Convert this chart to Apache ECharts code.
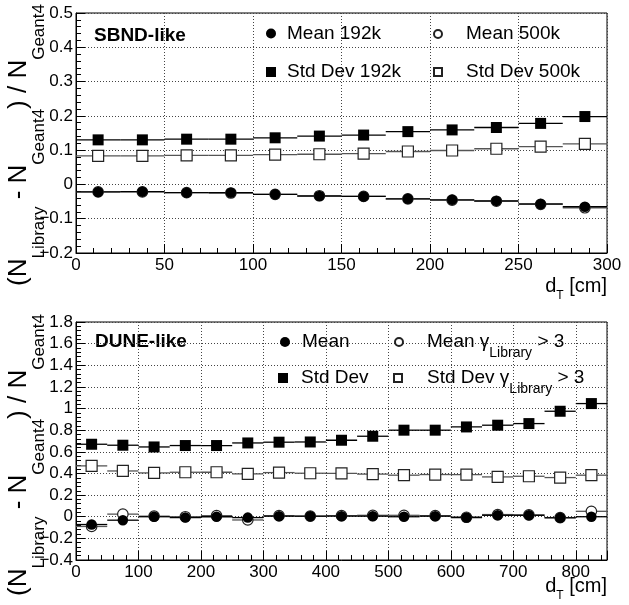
<!DOCTYPE html>
<html><head><meta charset="utf-8">
<script src="https://cdn.jsdelivr.net/npm/echarts@6/dist/echarts.min.js"></script>
<style>html,body{margin:0;padding:0;background:#fff}#c{width:629px;height:605px}</style>
</head><body><div id="c"></div>
<script>
// ---------- data ----------
const sbndBinWidth = 25;
const sbndX = [12.5, 37.5, 62.5, 87.5, 112.5, 137.5, 162.5, 187.5, 212.5, 237.5, 262.5, 287.5];
const sbndMean192k = [-0.022, -0.021, -0.024, -0.024, -0.029, -0.034, -0.035, -0.042, -0.045, -0.048, -0.057, -0.065];
const sbndMean500k = [-0.022, -0.022, -0.024, -0.025, -0.029, -0.033, -0.035, -0.042, -0.046, -0.049, -0.058, -0.068];
const sbndStd192k  = [0.130, 0.130, 0.132, 0.132, 0.136, 0.141, 0.144, 0.154, 0.159, 0.166, 0.178, 0.198];
const sbndStd500k  = [0.083, 0.083, 0.085, 0.085, 0.087, 0.088, 0.090, 0.096, 0.099, 0.104, 0.110, 0.118];

const duneBinWidth = 50;
const duneX = [25, 75, 125, 175, 225, 275, 325, 375, 425, 475, 525, 575, 625, 675, 725, 775, 825];
const duneMean    = [-0.072, -0.032, 0.000, -0.008, 0.000, -0.008, 0.005, 0.005, 0.005, 0.005, 0.000, 0.005, -0.007, 0.013, 0.013, -0.010, 0.000];
const duneMeanCut = [-0.090, 0.024, 0.005, 0.000, 0.010, -0.030, 0.010, 0.005, 0.010, 0.013, 0.013, 0.010, -0.005, 0.020, 0.017, -0.008, 0.050];
const duneStd     = [0.670, 0.661, 0.645, 0.658, 0.658, 0.682, 0.689, 0.691, 0.707, 0.744, 0.800, 0.800, 0.830, 0.846, 0.861, 0.975, 1.046];
const duneStdCut  = [0.470, 0.423, 0.405, 0.411, 0.411, 0.396, 0.408, 0.402, 0.400, 0.394, 0.384, 0.390, 0.390, 0.368, 0.374, 0.362, 0.384];

const sbndXAxis = {min: 0, max: 300, interval: 50};
const sbndYAxis = {min: -0.2, max: 0.5, interval: 0.1};
const duneXAxis = {min: 0, max: 850, interval: 100};
const duneYAxis = {min: -0.4, max: 1.8, interval: 0.2};

const labels = {
  sbnd: 'SBND-like', dune: 'DUNE-like',
  yTitle: '(N{sub|Library} - N{sub|Geant4}) / N{sub|Geant4}',
  xTitle: 'd{sub|T} [cm]'
};

// ---------- helpers ----------
const FONT = "'Liberation Sans', Arial, Helvetica, sans-serif";
const pts = (xs, ys) => xs.map((x, i) => [x, ys[i]]);
const fmt = v => String(+(+v).toFixed(3)).replace('-', '\u2212');

function bars(name, xs, ys, bw, idx, color) {
  const hw = bw / 2;
  return {
    type: 'custom', name: name, xAxisIndex: idx, yAxisIndex: idx, silent: true,
    data: pts(xs, ys), encode: {x: 0, y: 1},
    renderItem: function (params, api) {
      const x = api.value(0), y = api.value(1);
      const a = api.coord([x - hw, y]), b = api.coord([x + hw, y]);
      return {type: 'line', shape: {x1: a[0], y1: a[1], x2: b[0], y2: b[1]},
              style: {stroke: color, lineWidth: 1.3}};
    }
  };
}
function marks(name, xs, ys, idx, symbol, open) {
  return {
    type: 'scatter', name: name, xAxisIndex: idx, yAxisIndex: idx, silent: true,
    data: pts(xs, ys), symbol: symbol, symbolSize: symbol === 'rect' ? 11 : 10.5,
    itemStyle: open ? {color: '#fff', borderColor: '#222', borderWidth: 1.2, opacity: 1}
                    : {color: '#000', opacity: 1},
    emphasis: {disabled: true}
  };
}
function xAx(idx, cfg) {
  return Object.assign({
    type: 'value', gridIndex: idx,
    axisLine: {show: true, onZero: false, lineStyle: {color: '#000', width: 1}},
    axisTick: {show: true, inside: true, length: 9, lineStyle: {color: '#000'}},
    minorTick: {show: true, splitNumber: 5, length: 5, lineStyle: {color: '#000'}},
    splitLine: {show: true, lineStyle: {color: '#444', type: [1, 2], width: 1}},
    axisLabel: {fontSize: 17, color: '#000', margin: 4, fontFamily: FONT, showMaxLabel: idx === 0}
  }, cfg);
}
function yAx(idx, cfg) {
  return Object.assign({
    type: 'value', gridIndex: idx,
    axisLine: {show: true, onZero: false, lineStyle: {color: '#000', width: 1}},
    axisTick: {show: true, inside: true, length: 9, lineStyle: {color: '#000'}},
    minorTick: {show: true, splitNumber: 5, length: 5, lineStyle: {color: '#000'}},
    splitLine: {show: true, lineStyle: {color: '#444', type: [1, 2], width: 1}},
    axisLabel: {fontSize: 17, color: '#000', margin: 3, fontFamily: FONT, formatter: fmt}
  }, cfg);
}
function leg(name, cx, cy, w, pad, L, fmtStr) {
  return {
    data: [{name: name}], left: cx - w / 2, top: cy - L / 2, padding: 0,
    itemWidth: w, itemHeight: w, selectedMode: false, orient: 'horizontal',
    formatter: fmtStr || '{name}',
    textStyle: {fontSize: 19, fontFamily: FONT, color: '#000', lineHeight: L, padding: [0, 0, 0, pad],
      rich: {sub: {fontSize: 14, fontFamily: FONT, color: '#000', lineHeight: 12, verticalAlign: 'bottom'}}}
  };
}
function ytitle(cx, cy) {
  return {type: 'text', x: cx, y: cy, rotation: Math.PI / 2, silent: true,
    style: {text: labels.yTitle, fontSize: 26, fontFamily: FONT, lineHeight: 57, fill: '#000',
      align: 'center', verticalAlign: 'middle', textAlign: 'center', textVerticalAlign: 'middle',
      rich: {sub: {fontSize: 17, fontFamily: FONT, lineHeight: 17, verticalAlign: 'bottom', fill: '#000'}}}};
}
function xtitle(rx, cy) {
  return {type: 'text', x: rx, y: cy, silent: true,
    style: {text: labels.xTitle, fontSize: 20, fontFamily: FONT, lineHeight: 30, fill: '#000',
      align: 'right', verticalAlign: 'middle', textAlign: 'right', textVerticalAlign: 'middle',
      rich: {sub: {fontSize: 12, fontFamily: FONT, lineHeight: 12, verticalAlign: 'bottom', fill: '#000'}}}};
}
function ptitle(t, x, y) {
  return {type: 'text', x: x, y: y, silent: true,
    style: {text: t, fontSize: 19, fontWeight: 'bold', fontFamily: FONT, fill: '#000',
      align: 'left', verticalAlign: 'middle', textAlign: 'left', textVerticalAlign: 'middle'}};
}

const chart = echarts.init(document.getElementById('c'), null, {renderer: 'canvas'});
chart.setOption({
  animation: false,
  backgroundColor: '#fff',
  grid: [
    {left: 76, top: 13, width: 531, height: 240, show: true, borderColor: '#000', borderWidth: 1, backgroundColor: '#fff'},
    {left: 76, top: 322, width: 531, height: 238, show: true, borderColor: '#000', borderWidth: 1, backgroundColor: '#fff'}
  ],
  xAxis: [xAx(0, sbndXAxis), xAx(1, duneXAxis)],
  yAxis: [yAx(0, sbndYAxis), yAx(1, duneYAxis)],
  legend: [
    leg('Mean 192k', 271, 33.5, 10, 6, 22),
    leg('Mean 500k', 437, 34, 8, 19, 22),
    leg('Std Dev 192k', 271, 72, 10, 6, 22),
    leg('Std Dev 500k', 437, 72, 8, 19, 22),
    leg('Mean', 285, 342, 10, 7, 22),
    leg('Mean \u03b3 > 3', 398, 342, 8, 19, 36, 'Mean \u03b3{sub|Library} > 3'),
    leg('Std Dev', 283, 378, 10, 8, 22),
    leg('Std Dev \u03b3 > 3', 397, 378, 8, 20, 36, 'Std Dev \u03b3{sub|Library} > 3')
  ],
  series: [
    bars('b500m', sbndX, sbndMean500k, sbndBinWidth, 0, '#555'),
    marks('Mean 500k', sbndX, sbndMean500k, 0, 'circle', true),
    bars('b500s', sbndX, sbndStd500k, sbndBinWidth, 0, '#555'),
    marks('Std Dev 500k', sbndX, sbndStd500k, 0, 'rect', true),
    bars('b192m', sbndX, sbndMean192k, sbndBinWidth, 0, '#000'),
    marks('Mean 192k', sbndX, sbndMean192k, 0, 'circle', false),
    bars('b192s', sbndX, sbndStd192k, sbndBinWidth, 0, '#000'),
    marks('Std Dev 192k', sbndX, sbndStd192k, 0, 'rect', false),

    bars('bdmc', duneX, duneMeanCut, duneBinWidth, 1, '#555'),
    marks('Mean \u03b3 > 3', duneX, duneMeanCut, 1, 'circle', true),
    bars('bdsc', duneX, duneStdCut, duneBinWidth, 1, '#555'),
    marks('Std Dev \u03b3 > 3', duneX, duneStdCut, 1, 'rect', true),
    bars('bdm', duneX, duneMean, duneBinWidth, 1, '#000'),
    marks('Mean', duneX, duneMean, 1, 'circle', false),
    bars('bds', duneX, duneStd, duneBinWidth, 1, '#000'),
    marks('Std Dev', duneX, duneStd, 1, 'rect', false)
  ],
  graphic: [
    ytitle(19, 145),
    ytitle(19, 455),
    xtitle(607, 286.5),
    xtitle(607, 586.5),
    ptitle(labels.sbnd, 94, 35.5),
    ptitle(labels.dune, 95, 341.5)
  ]
});
</script></body></html>
